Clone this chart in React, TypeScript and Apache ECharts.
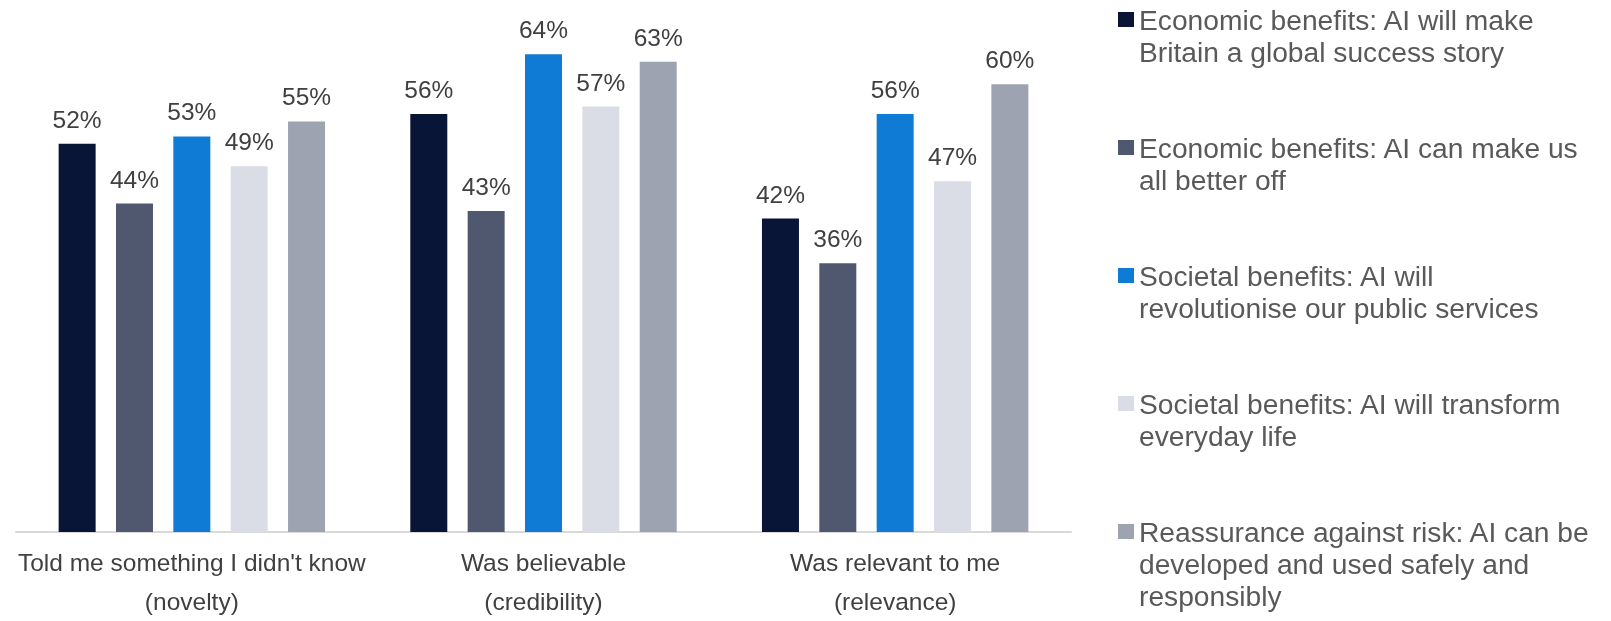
import React, { useEffect, useRef } from "react";
import * as echarts from "echarts";

const categories = [
  "Told me something I didn't know\n(novelty)",
  "Was believable\n(credibility)",
  "Was relevant to me\n(relevance)",
];

const seriesNames = [
  "Economic benefits: AI will make\nBritain a global success story",
  "Economic benefits: AI can make us\nall better off",
  "Societal benefits: AI will\nrevolutionise our public services",
  "Societal benefits: AI will transform\neveryday life",
  "Reassurance against risk: AI can be\ndeveloped and used safely and\nresponsibly",
];

const econGlobal = [52, 56, 42];
const econBetterOff = [44, 43, 36];
const socPublic = [53, 64, 56];
const socEveryday = [49, 57, 47];
const reassurance = [55, 63, 60];

const seriesValues = [econGlobal, econBetterOff, socPublic, socEveryday, reassurance];
const colors = ["#081537", "#505870", "#0F7BD4", "#DADDE6", "#9DA3B0"];

const FONT = "'Liberation Sans', Arial, sans-serif";

export default function App() {
  const ref = useRef<HTMLDivElement>(null);
  useEffect(() => {
    if (!ref.current) return;
    const chart = echarts.init(ref.current, undefined, { renderer: "svg" });
    chart.setOption({
      animation: false,
      textStyle: { fontFamily: FONT },
      grid: { left: 16, right: 540, top: 9.5, bottom: 80.5 },
      legend: {
        orient: "vertical",
        left: 1118,
        top: 3.5,
        padding: 0,
        itemGap: 32,
        itemWidth: 16,
        itemHeight: 79,
        icon: "path://M0,0h16v15h-16z M0,79 L16,79",
        data: seriesNames,
        formatter: (name: string) => {
          const lines = name.split("\n").length;
          return lines < 3 ? name + "\n " : name;
        },
        textStyle: {
          fontFamily: FONT,
          fontSize: 28.2,
          lineHeight: 32,
          color: "#595959",
        },
        selectedMode: false,
      },
      xAxis: {
        type: "category",
        data: categories,
        axisLine: { lineStyle: { color: "#D9D9D9", width: 2 } },
        axisTick: { show: false },
        axisLabel: {
          fontFamily: FONT,
          fontSize: 24.5,
          lineHeight: 39,
          color: "#404040",
          margin: 11,
          interval: 0,
        },
      },
      yAxis: {
        type: "value",
        min: 0,
        max: 70,
        show: false,
        splitLine: { show: false },
      },
      series: seriesNames.map((name, i) => ({
        name,
        type: "bar",
        data: seriesValues[i],
        barWidth: 37,
        barGap: "55%",
        itemStyle: { color: colors[i] },
        label: {
          show: true,
          position: "top",
          distance: 12,
          formatter: "{c}%",
          fontFamily: FONT,
          fontSize: 24.5,
          color: "#404040",
        },
      })),
    });
    return () => chart.dispose();
  }, []);
  return (
    <div
      ref={ref}
      style={{ position: "fixed", left: 0, top: 0, width: 1611, height: 621 }}
    />
  );
}
